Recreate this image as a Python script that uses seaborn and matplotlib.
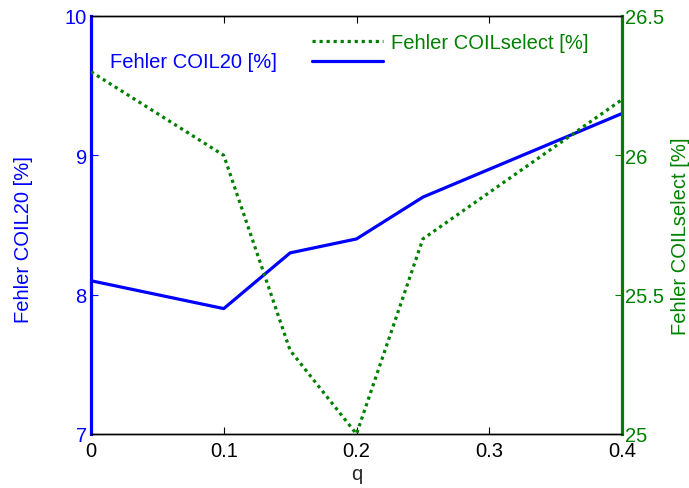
import matplotlib
matplotlib.use("Agg")
import matplotlib.pyplot as plt
import pandas as pd
import seaborn as sns

# values
q = [0.0, 0.1, 0.15, 0.2, 0.25, 0.4]
fehler_coil20 = [8.1, 7.9, 8.3, 8.4, 8.7, 9.3]
fehler_coilselect = [26.3, 26.0, 25.3, 25.0, 25.7, 26.2]

x_ticks = [0, 0.1, 0.2, 0.3, 0.4]
left_ticks = [7, 8, 9, 10]
right_ticks = [25, 25.5, 26, 26.5]

blue = "#0000ff"
green = "#008000"
fs = 14.5

sns.set_style("white")
plt.rcParams["font.family"] = ["Liberation Sans", "DejaVu Sans"]
plt.rcParams["font.size"] = fs

df = pd.DataFrame({"q": q, "coil20": fehler_coil20, "coilselect": fehler_coilselect})

fig = plt.figure(figsize=(6.89, 4.89), dpi=100)
ax = fig.add_axes([91 / 689, 54 / 489, 531 / 689, 418 / 489])
ax2 = ax.twinx()

sns.lineplot(data=df, x="q", y="coil20", ax=ax, color=blue, linewidth=2.3)
sns.lineplot(data=df, x="q", y="coilselect", ax=ax2, color=green, linewidth=2.3,
             linestyle=(0, (1, 1.2)))

ax.set_xlim(0, 0.4)
ax.set_ylim(7, 10)
ax2.set_ylim(25, 26.5)
ax.set_xticks(x_ticks)
ax.set_xticklabels(["0", "0.1", "0.2", "0.3", "0.4"])
ax.set_yticks(left_ticks)
ax2.set_yticks(right_ticks)
ax2.set_yticklabels(["25", "25.5", "26", "26.5"])

ax.set_xlabel("q", fontsize=fs)
ax.set_ylabel("Fehler COIL20 [%]", color=blue, fontsize=fs)
ax2.set_ylabel("Fehler COILselect [%]", color=green, fontsize=fs)
ax.xaxis.set_label_coords(0.5, -0.072)
ax.yaxis.set_label_coords(-0.109, 0.467)
ax2.yaxis.set_label_coords(1.092, 0.476)

for a in (ax, ax2):
    for s in a.spines.values():
        s.set_linewidth(1.0)
        s.set_color("black")
ax.spines["left"].set_color(blue)
ax.spines["left"].set_linewidth(2.3)
ax2.spines["right"].set_color(green)
ax2.spines["right"].set_linewidth(2.3)
ax2.spines["left"].set_visible(False)

ax.tick_params(axis="x", direction="in", length=5, top=True, bottom=True,
               labelsize=fs, colors="black", pad=5)
ax.tick_params(axis="y", direction="in", length=5, colors=blue, labelsize=fs, pad=3)
ax2.tick_params(axis="y", direction="in", length=5, colors=green, labelsize=fs, pad=2)

# legend: green entry with label, blue entry with its text set apart to the left
h_blue = ax.get_lines()[0]
h_green = ax2.get_lines()[0]
leg = ax2.legend([h_green, h_blue], ["Fehler COILselect [%]", ""],
                 loc="upper left", bbox_to_anchor=(0.39, 0.992), frameon=False,
                 handlelength=3.5, handletextpad=0.4, labelspacing=0.05,
                 borderaxespad=0.3, fontsize=fs)
for t in leg.get_texts():
    t.set_color(green)
ax.text(0.035, 0.892, "Fehler COIL20 [%]", transform=ax.transAxes, color=blue,
        fontsize=fs, va="center", ha="left")

fig.savefig("out.png", dpi=100)
